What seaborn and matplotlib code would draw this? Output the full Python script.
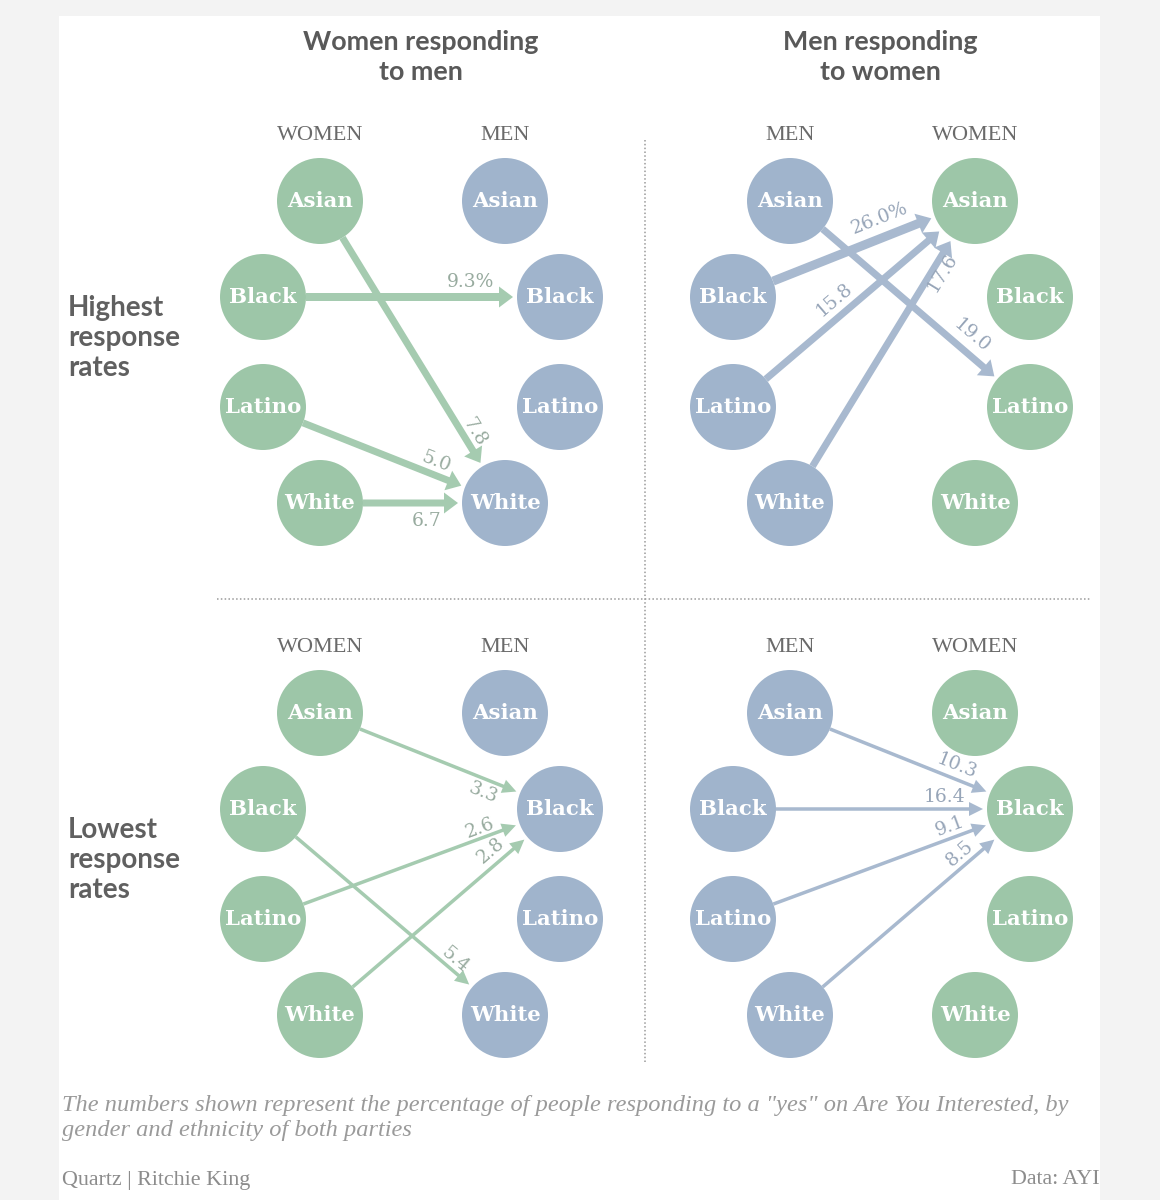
import math
import numpy as np
import pandas as pd
import matplotlib
matplotlib.use("Agg")
import matplotlib.pyplot as plt
from matplotlib.patches import Rectangle, FancyArrowPatch, ArrowStyle
import seaborn as sns

# ---------------- data ----------------
ethnicities = ["Asian", "Black", "Latino", "White"]
panel_titles = ["Women responding\nto men", "Men responding\nto women"]
row_titles = ["Highest\nresponse\nrates", "Lowest\nresponse\nrates"]
column_headers = [["WOMEN", "MEN"], ["MEN", "WOMEN"]]

# Highest rates, women responding to men
hi_w2m_src = ["Black", "Asian", "Latino", "White"]
hi_w2m_dst = ["Black", "White", "White", "White"]
hi_w2m_val = [9.3, 7.8, 5.0, 6.7]

# Highest rates, men responding to women
hi_m2w_src = ["Black", "Latino", "White", "Asian"]
hi_m2w_dst = ["Asian", "Asian", "Asian", "Latino"]
hi_m2w_val = [26.0, 15.8, 17.6, 19.0]

# Lowest rates, women responding to men
lo_w2m_src = ["Asian", "Latino", "White", "Black"]
lo_w2m_dst = ["Black", "Black", "Black", "White"]
lo_w2m_val = [3.3, 2.6, 2.8, 5.4]

# Lowest rates, men responding to women
lo_m2w_src = ["Asian", "Black", "Latino", "White"]
lo_m2w_dst = ["Black", "Black", "Black", "Black"]
lo_m2w_val = [10.3, 16.4, 9.1, 8.5]

footnote = ('The numbers shown represent the percentage of people responding to a "yes" '
            'on Are You Interested, by\ngender and ethnicity of both parties')
credit = "Quartz | Ritchie King"
source = "Data: AYI"

# ---------------- style / layout ----------------
W_GREEN = "#9dc6a8"
M_BLUE = "#a0b4cc"
ARROW = {"women": "#a5cbb0", "men": "#a8b9cf"}
LABEL = {"women": "#98ab9f", "men": "#97a5b8"}
NODE = {"women": W_GREEN, "men": M_BLUE}

col_x_inner = [320, 505]
col_x_outer = [263, 560]
row_y = [201, 297, 407, 503]
panel_dx = [0, 470]
panel_dy = [0, 512]
R = 43

side_gender = [["women", "men"], ["men", "women"]]

panels = [
    dict(prow=0, pcol=0, src=hi_w2m_src, dst=hi_w2m_dst, val=hi_w2m_val,
         pct=[True, False, False, False], width=[8, 7, 7, 7],
         lab=[(0.70, 15), (0.783, 11), (0.696, 13), (0.578, -18)]),
    dict(prow=0, pcol=1, src=hi_m2w_src, dst=hi_m2w_dst, val=hi_m2w_val,
         pct=[True, False, False, False], width=[9, 7, 7, 7],
         lab=[(0.636, 19), (0.461, 16), (0.78, -10), (0.715, 16)]),
    dict(prow=1, pcol=0, src=lo_w2m_src, dst=lo_w2m_dst, val=lo_w2m_val,
         pct=[False] * 4, width=[3.5] * 4,
         lab=[(0.70, -14), (0.742, 10), (0.748, 14), (0.768, 10)]),
    dict(prow=1, pcol=1, src=lo_m2w_src, dst=lo_m2w_dst, val=lo_m2w_val,
         pct=[False] * 4, width=[3.5] * 4,
         lab=[(0.675, 13), (0.713, 12), (0.744, 12), (0.741, 12)]),
]


def node_xy(side, eth, prow, pcol):
    i = ethnicities.index(eth)
    x = (col_x_inner if i in (0, 3) else col_x_outer)[side] + panel_dx[pcol]
    y = row_y[i] + panel_dy[prow]
    return x, y


# ---------------- figure ----------------
sns.set_style("white")
fig = plt.figure(figsize=(11.6, 12), dpi=100, facecolor="#f3f3f3")
ax = fig.add_axes([0, 0, 1, 1])
ax.set_xlim(0, 1160)
ax.set_ylim(1200, 0)
ax.axis("off")
ax.add_patch(Rectangle((59, 16), 1041, 1200, facecolor="white", edgecolor="none", zorder=0))

# nodes table
rows = []
for prow in range(2):
    for pcol in range(2):
        for side in range(2):
            for eth in ethnicities:
                x, y = node_xy(side, eth, prow, pcol)
                rows.append(dict(x=x, y=y, eth=eth, gender=side_gender[pcol][side]))
nodes = pd.DataFrame(rows)

sns.scatterplot(data=nodes, x="x", y="y", hue="gender", palette=NODE,
                s=(2 * R * 0.72) ** 2, linewidth=0, legend=False, ax=ax, zorder=3)
for _, r in nodes.iterrows():
    ax.text(r.x, r.y, r.eth, ha="center", va="center", color="white",
            fontsize=15.3, fontweight="bold", family="DejaVu Serif", zorder=4)

# arrows
for p in panels:
    src_side_gender = side_gender[p["pcol"]][0]
    for k in range(len(p["val"])):
        sx, sy = node_xy(0, p["src"][k], p["prow"], p["pcol"])
        tx, ty = node_xy(1, p["dst"][k], p["prow"], p["pcol"])
        dx, dy = tx - sx, ty - sy
        L = math.hypot(dx, dy)
        ux, uy = dx / L, dy / L
        a = (sx + R * ux, sy + R * uy)
        b = (tx - (R + 4) * ux, ty - (R + 4) * uy)
        w = p["width"][k]
        if w > 5:
            hl, hw = 14, 21
        else:
            hl, hw = 14, 14
        style = ArrowStyle.Simple(head_length=hl * 0.72, head_width=hw * 0.72,
                                  tail_width=w * 0.72)
        ax.add_patch(FancyArrowPatch(a, b, arrowstyle=style, mutation_scale=1,
                                     lw=0, color=ARROW[src_side_gender],
                                     shrinkA=0, shrinkB=0, zorder=2))
        # label
        t, perp = p["lab"][k]
        ang = math.degrees(math.atan2(-dy, dx))
        upx, upy = dy / L, -dx / L
        lx = sx + t * dx + perp * upx
        ly = sy + t * dy + perp * upy
        txt = f"{p['val'][k]:.1f}" + ("%" if p["pct"][k] else "")
        ax.text(lx, ly, txt, rotation=ang, rotation_mode="anchor", ha="center",
                va="center", fontsize=13.5, family="DejaVu Serif",
                color=LABEL[src_side_gender], zorder=5)

# column headers
for prow in range(2):
    for pcol in range(2):
        for side in range(2):
            x = col_x_inner[side] + panel_dx[pcol]
            y = 135 + panel_dy[prow]
            ax.text(x, y, column_headers[pcol][side], ha="center", va="center",
                    fontsize=16, family="Liberation Serif", color="#6a6a6a")

# panel titles
for pcol, title in enumerate(panel_titles):
    ax.text(421 + 459 * pcol, 57, title, ha="center", va="center", fontsize=19.4,
            fontweight="bold", family="Lato", color="#595959", linespacing=1.25)

# row titles
for prow, title in enumerate(row_titles):
    ax.text(68, 338 + 522 * prow, title, ha="left", va="center", fontsize=20,
            fontweight="bold", family="Lato", color="#606060", linespacing=1.2)

# separators
ax.plot([645, 645], [140, 1062], ls=(0, (1, 1.5)), color="#9a9a9a", lw=1.1, zorder=1)
ax.plot([217, 1090], [599, 599], ls=(0, (1, 1.5)), color="#9a9a9a", lw=1.1, zorder=1)

# footnotes
ax.text(62, 1118, footnote, ha="left", va="center", fontsize=17.6, style="italic",
        family="Liberation Serif", color="#9a9a9a", linespacing=1.2)
ax.text(62, 1180, credit, ha="left", va="center", fontsize=15.8,
        family="Liberation Serif", color="#8c8c8c")
ax.text(1100, 1180, source, ha="right", va="center", fontsize=15.8,
        family="Liberation Serif", color="#8c8c8c")

fig.savefig("out.png", dpi=100, facecolor=fig.get_facecolor())
